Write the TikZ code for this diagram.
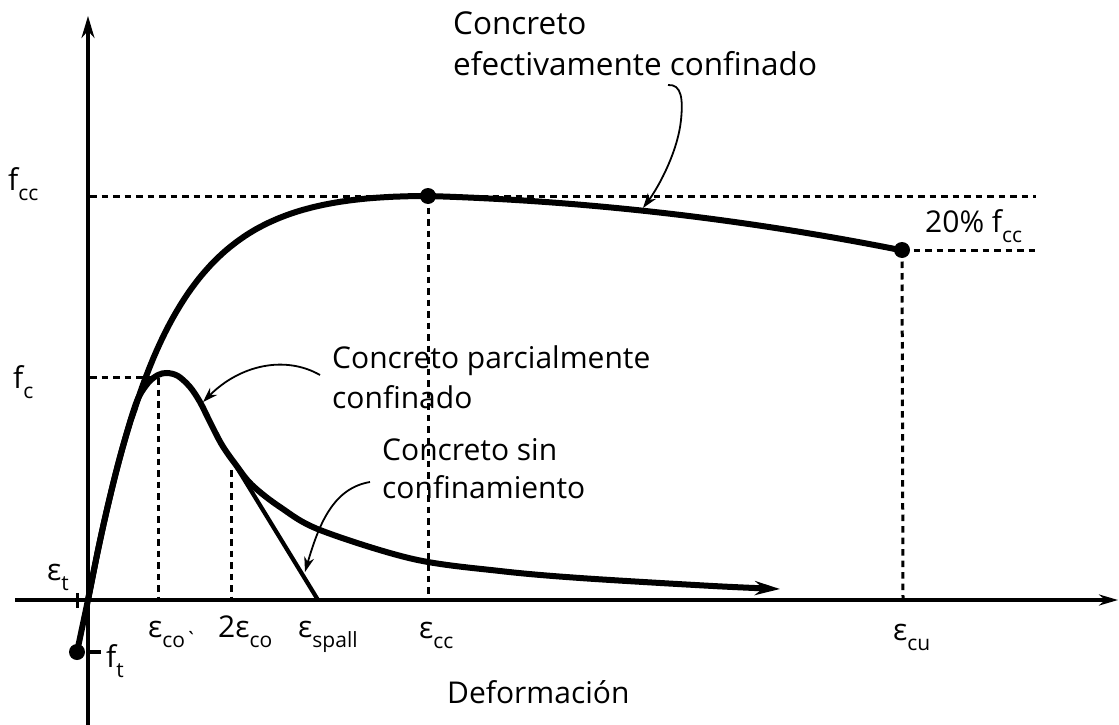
\documentclass[tikz,border=0pt]{standalone}
\usepackage{fontspec}
\setmainfont{Open Sans}
\usetikzlibrary{arrows.meta}
\newcommand{\eps}{ε}
\newcommand{\sbs}[1]{\raisebox{-0.36em}{\fontsize{21}{21}\selectfont #1}}
\begin{document}
\begin{tikzpicture}[x=1pt,y=-1pt,
  axis/.style={line width=3.2pt},
  curve/.style={line width=6pt},
  guide/.style={line width=3pt, dash pattern=on 6.5pt off 5pt},
  note/.style={line width=1.8pt, -{Stealth[length=15pt,width=10pt]}},
  lbl/.style={inner sep=0pt, anchor=base west, font=\fontsize{30}{30}\selectfont},
  biglbl/.style={lbl, font=\fontsize{31.5}{31.5}\selectfont},
  dot/.style={circle, fill, inner sep=0pt, minimum size=16pt}]
\useasboundingbox (0,0) rectangle (1119,725);

% axes
\coordinate (O) at (88,600);
\coordinate (Ybot) at (88,725);
\coordinate (Ytop) at (88,16);
\coordinate (Xl) at (15,600);
\coordinate (Xr) at (1118,600);
\draw[axis,-{Stealth[length=22pt,width=13pt]}] (Ybot) -- (Ytop);
\draw[axis,-{Stealth[length=19pt,width=11pt]}] (Xl) -- (Xr);

% key points
\node[dot] (PeakC) at (428,196) {};
\node[dot] (EndC) at (902,250) {};
\node[dot] (Tdot) at (77,652) {};

% guide lines
\coordinate (FccL) at (90,196);
\coordinate (FccR) at (1036,196);
\coordinate (F20R) at (1038,250);
\coordinate (EccB) at (428,600);
\coordinate (EcuB) at (903,600);
\coordinate (FcL) at (90,377);
\coordinate (Eco) at (158,377);
\coordinate (EcoB) at (158,600);
\coordinate (E2T) at (231,470);
\coordinate (E2B) at (231,600);
\draw[guide] (FccL) -- (FccR);
\draw[guide] (EndC.center) -- (F20R);
\draw[guide] (PeakC.center) -- (EccB);
\draw[guide] (EndC.center) -- (EcuB);
\draw[guide] (FcL) -- (Eco) -- (EcoB);
\draw[guide] (E2T) -- (E2B);

% ticks
\coordinate (FtA) at (88,652);
\coordinate (FtB) at (101,652);
\coordinate (EtA) at (77,593);
\coordinate (EtB) at (77,608);
\draw[axis] (FtA) -- (FtB);
\draw[line width=3pt] (EtA) -- (EtB);

% tension branch
\draw[curve] (Tdot.center) -- (O);

% confined curve
\draw[curve, line join=round] (O) -- plot[domain=88.5:428, samples=90]
  (\x, {600-525.2*((\x-88)/340)/(0.3+((\x-88)/340)^1.3)})
  -- plot[domain=428:902, samples=40]
  (\x, {196+0.03*(\x-428)+1.787*((\x-428)/100)^2});

% unconfined curve
\draw[curve, -{Stealth[length=25pt,width=14pt]}] plot[smooth, tension=0.55] coordinates {
 (88,600) (92,580) (98,550) (105,518) (115,476) (125,439) (137,401)
 (148,383) (158,375) (167,373) (178,376) (190,387) (200,402) (210,422)
 (222,445) (236,465) (252,485) (280,507) (320,530) (413,559) (500,571)
 (580,578) (713,586) (780,589)};

% spalling line
\coordinate (SpA) at (236,466);
\coordinate (SpB) at (318,600);
\draw[line width=4.2pt] (SpA) -- (SpB);

% labels
\node[lbl] (lfcc) at (8,190) {f\sbs{cc}};
\node[lbl] (lfc) at (13,388) {f\sbs{c}};
\node[lbl] (let) at (47,580) {\eps\sbs{t}};
\node[lbl] (lft) at (106,667) {f\sbs{t}};
\node[lbl] (leco) at (148,637) {\eps\sbs{co\textasciigrave}};
\node[lbl] (le2co) at (218,637) {2\eps\sbs{co}};
\node[lbl] (lesp) at (298,637) {\eps\sbs{spall}};
\node[lbl] (lecc) at (419,638) {\eps\sbs{cc}};
\node[lbl] (lecu) at (893,640) {\eps\sbs{cu}};
\node[lbl] (ldef) at (447,703) {Deformación};
\node[lbl] (l20) at (925,232) {20\% f\sbs{cc}};

\node[biglbl] (tc1) at (453,35) {Concreto};
\node[biglbl] (tc2) at (453,75) {efectivamente confinado};
\node[lbl] (tp1) at (332,368) {Concreto parcialmente};
\node[lbl] (tp2) at (332,408) {confinado};
\node[lbl] (ts1) at (382,460) {Concreto sin};
\node[lbl] (ts2) at (382,498) {confinamiento};

% annotation arrows
\coordinate (n1s) at (668,85);
\coordinate (n1e) at (643,208);
\draw[note] (n1s) .. controls (682,84) and (683,100) .. (681,120)
  .. controls (678,150) and (660,185) .. (n1e);
\coordinate (n2s) at (320,375);
\coordinate (n2e) at (203,402);
\draw[note] (n2s) .. controls (285,355) and (240,365) .. (n2e);
\coordinate (n3s) at (370,482);
\coordinate (n3e) at (305,572);
\draw[note] (n3s) .. controls (335,488) and (320,520) .. (n3e);
\end{tikzpicture}
\end{document}
